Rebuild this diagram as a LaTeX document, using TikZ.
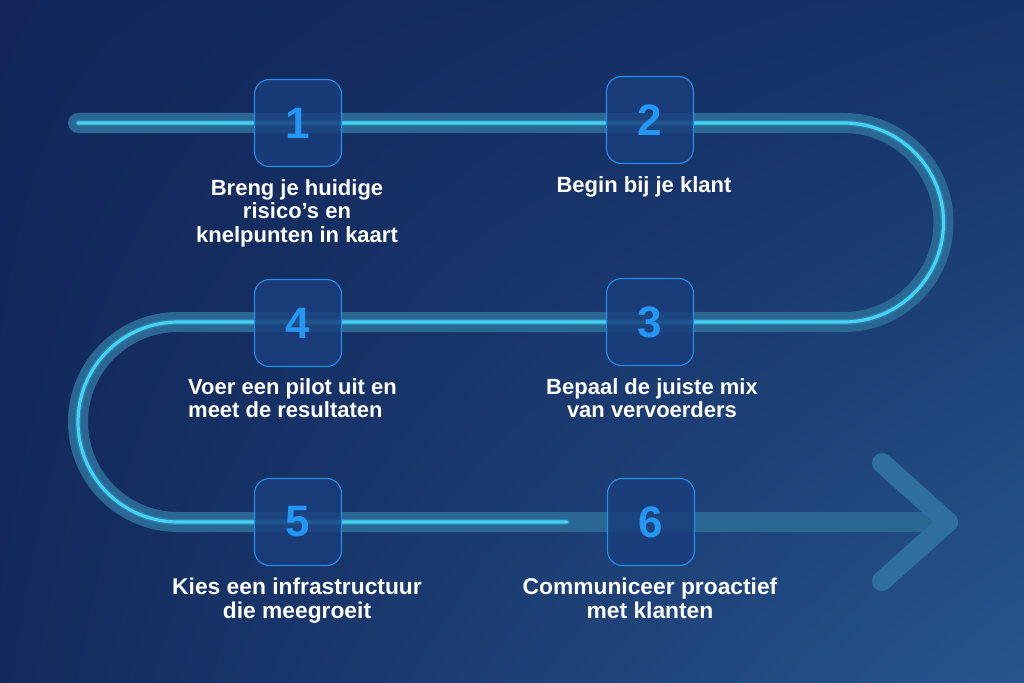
\documentclass[tikz,border=0pt]{standalone}
\usepackage{fontspec}
\setmainfont{Liberation Sans}
\usetikzlibrary{shadings}
\begin{document}
\begin{tikzpicture}[x=1pt,y=-1pt,
  band/.style={line width=20pt, draw=bandc, line cap=round, line join=round},
  glowline/.style={line width=6pt, draw=glowc, draw opacity=0.25, line cap=round},
  brightline/.style={line width=3.2pt, draw=linec, line cap=round},
  stepbox/.style={draw=boxborder, line width=1.1pt, fill=boxfill, fill opacity=0.82,
     rounded corners=15pt, minimum width=87pt, minimum height=87pt, inner sep=0pt,
     text opacity=1, text=digitc, font=\bfseries\fontsize{44}{44}\selectfont},
  label/.style={text=white, font=\bfseries\fontsize{22}{23.5}\selectfont, inner sep=0pt, anchor=north},
  biglabel/.style={label, font=\bfseries\fontsize{22.8}{23.5}\selectfont}
]
\definecolor{bgtl}{HTML}{12265A}
\definecolor{bgtr}{HTML}{153367}
\definecolor{bgbl}{HTML}{132A5C}
\definecolor{bgbr}{HTML}{27568F}
\definecolor{bandc}{HTML}{2A6893}
\definecolor{arrowc}{HTML}{2E6FA0}
\definecolor{linec}{HTML}{45D3F3}
\definecolor{glowc}{HTML}{3FC8F0}
\definecolor{boxborder}{HTML}{2290F0}
\definecolor{boxfill}{HTML}{1A3E7C}
\definecolor{digitc}{HTML}{2497F5}

\useasboundingbox (0,0) rectangle (1024,682);
\shade[upper left=bgtl, upper right=bgtr, lower left=bgbl, lower right=bgbr] (0,0) rectangle (1024,682);

% path coordinates
\coordinate (s) at (78,123);
\coordinate (r1) at (844,123);
\coordinate (r2) at (844,322);
\coordinate (l1) at (178,322);
\coordinate (l2) at (178,522);
\coordinate (e) at (567,522);
\coordinate (tip) at (948,522);
\coordinate (armu) at (882,463);
\coordinate (armd) at (882,581);

% wide band
\draw[band] (s) -- (r1) arc[start angle=-90, end angle=90, radius=99.5] -- (l1)
  arc[start angle=270, end angle=90, radius=100] -- (tip);
\draw[band, draw=arrowc] (armu) -- (tip) -- (armd);

% bright line
\draw[glowline] (s) -- (r1) arc[start angle=-90, end angle=90, radius=99.5] -- (l1)
  arc[start angle=270, end angle=90, radius=100] -- (e);
\draw[brightline] (s) -- (r1) arc[start angle=-90, end angle=90, radius=99.5] -- (l1)
  arc[start angle=270, end angle=90, radius=100] -- (e);

% boxes
\node[stepbox] (b1) at (298,123) {1};
\node[stepbox] (b2) at (650,120) {2};
\node[stepbox] (b3) at (650,322) {3};
\node[stepbox] (b4) at (298,323) {4};
\node[stepbox] (b5) at (298,522) {5};
\node[stepbox] (b6) at (651,522) {6};

% labels
\node[label, align=center] (t1) at (297,179) {Breng je huidige\\risico’s en\\knelpunten in kaart};
\node[label, align=center] (t2) at (644,176) {Begin bij je klant};
\node[label, align=center] (t3) at (652,378) {Bepaal de juiste mix\\van vervoerders};
\node[label, align=left, anchor=north west] (t4) at (188,378) {Voer een pilot uit en\\meet de resultaten};
\node[biglabel, align=center] (t5) at (297,578) {Kies een infrastructuur\\die meegroeit};
\node[biglabel, align=center] (t6) at (650,578) {Communiceer proactief\\met klanten};
\end{tikzpicture}
\end{document}
